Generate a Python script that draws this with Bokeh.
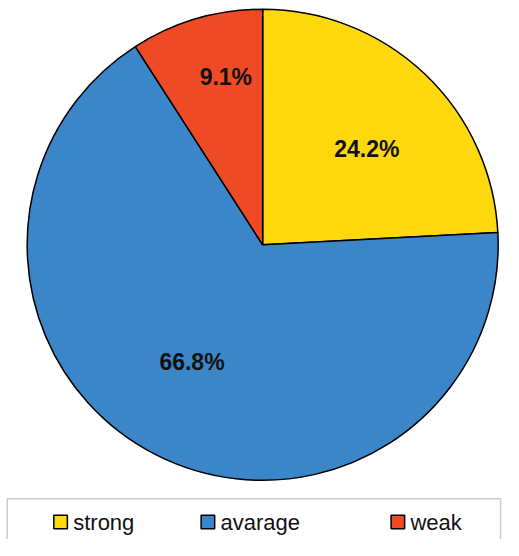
import math
from bokeh.plotting import figure
from bokeh.models import Range1d, BoxAnnotation, ColumnDataSource
from bokeh.core.properties import value
from bokeh.embed import file_html
from bokeh.resources import INLINE

# ---- data ----
categories = ["strong", "avarage", "weak"]
percents = [24.2, 66.8, 9.1]
colors = ["#FDD80C", "#3A86C8", "#EE4A25"]
labels = ["24.2%", "66.8%", "9.1%"]

# ---- layout / style ----
W, H = 503, 539          # figure size in screen pixels
UW, UH = 519, 556        # drawing units
cx, cy, R = 270.5, 304.0, 243.0
label_r = [0.60, 0.58, 0.73]
label_rot = -4.0
font = value("Liberation Sans")

p = figure(width=W, height=H, output_backend="svg", toolbar_location=None,
           x_range=Range1d(0, UW), y_range=Range1d(0, UH), min_border=0)
p.axis.visible = False
p.grid.visible = False
p.outline_line_color = None
p.background_fill_color = "white"

total = sum(percents)
starts, ends, lx, ly = [], [], [], []
a = 90.0
for i, v in enumerate(percents):
    sweep = v / total * 360.0
    s, e = a, a - sweep
    starts.append(math.radians(s))
    ends.append(math.radians(e))
    mid = math.radians((s + e) / 2 + label_rot)
    lx.append(cx + label_r[i] * R * math.cos(mid))
    ly.append(cy + label_r[i] * R * math.sin(mid))
    a = e

src = ColumnDataSource(dict(start=starts, end=ends, color=colors,
                            lx=lx, ly=ly, label=labels, cat=categories))
p.wedge(x=cx, y=cy, radius=R, start_angle="start", end_angle="end",
        direction="clock", fill_color="color", line_color="black",
        line_width=1.5, source=src)
p.text(x="lx", y="ly", text="label", source=src, text_font=font,
       text_font_size="23px", text_font_style="bold", text_color="#111111",
       text_align="center", text_baseline="middle")

# ---- legend (manual) ----
box = BoxAnnotation(left=7, right=516, top=42, bottom=-20,
                    fill_color=None, fill_alpha=0, line_color="#555555",
                    line_width=1.5)
p.add_layout(box)
leg_x = [55, 207, 403]
leg_src = ColumnDataSource(dict(x=[v + 7 for v in leg_x], tx=[v + 20 for v in leg_x],
                                y=[18] * 3, color=colors, cat=categories))
p.rect(x="x", y="y", width=14, height=14, fill_color="color",
       line_color="black", line_width=1.5, source=leg_src)
p.text(x="tx", y="y", text="cat", source=leg_src, text_font=font,
       text_font_size="22px", text_color="#111111",
       text_align="left", text_baseline="middle")

open("out.html", "w").write(file_html(p, INLINE))
